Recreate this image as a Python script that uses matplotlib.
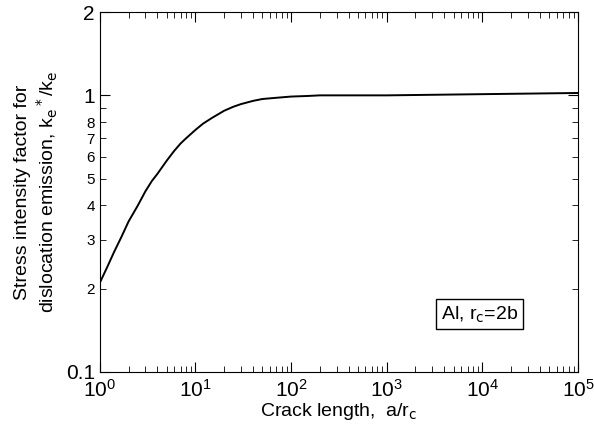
import matplotlib
matplotlib.use("Agg")
import matplotlib.pyplot as plt
from matplotlib.ticker import LogLocator, FixedLocator, FixedFormatter, NullFormatter

x = [1, 1.2, 1.4, 1.7, 2, 2.5, 3, 3.5, 4, 5, 6, 7, 8, 10, 12, 15, 20, 25, 30, 40, 50, 70, 100, 150, 200, 500, 1e3, 1e4, 1e5]
y = [0.21, 0.24, 0.27, 0.31, 0.35, 0.40, 0.45, 0.49, 0.52, 0.58, 0.63, 0.67, 0.70, 0.75, 0.79, 0.83, 0.88, 0.91, 0.93, 0.955, 0.97, 0.98, 0.99, 0.995, 1.0, 1.0, 1.0, 1.01, 1.02]

plt.rcParams['font.family'] = ['Liberation Sans', 'DejaVu Sans']
fig = plt.figure(figsize=(5.94, 4.32), dpi=100)
ax = fig.add_axes([0.168, 0.139, 0.805, 0.833])
ax.plot(x, y, color='black', lw=1.4)
ax.set_xscale('log'); ax.set_yscale('log')
ax.set_xlim(1, 1e5); ax.set_ylim(0.1, 2)
ax.yaxis.set_major_locator(FixedLocator([0.1, 1, 2]))
ax.yaxis.set_major_formatter(FixedFormatter(['0.1', '1', '2']))
minors = [0.2, 0.3, 0.4, 0.5, 0.6, 0.7, 0.8, 0.9]
ax.yaxis.set_minor_locator(FixedLocator(minors))
ax.yaxis.set_minor_formatter(FixedFormatter(['2', '3', '4', '5', '6', '7', '8', '']))
ax.xaxis.set_minor_locator(LogLocator(subs=range(2, 10)))
ax.xaxis.set_minor_formatter(NullFormatter())
ax.tick_params(which='both', direction='in', top=True, right=True, labelsize=15)
ax.tick_params(which='major', length=7)
ax.tick_params(which='minor', length=4)
ax.tick_params(axis='y', which='minor', labelsize=11)
ax.tick_params(axis='x', pad=5)
ax.set_xlabel('Crack length,  a/r$_\\mathrm{c}$', fontsize=14, labelpad=0)
ax.set_ylabel('Stress intensity factor for\ndislocation emission, k$_\\mathrm{e}$$^*$/k$_\\mathrm{e}$', fontsize=14)
ax.text(0.875, 0.16, 'Al, r$_\\mathrm{c}$=2b', transform=ax.transAxes, ha='right', va='center',
        fontsize=14, bbox=dict(boxstyle='square,pad=0.25', fc='white', ec='black'))
fig.savefig('out.png', dpi=100)
